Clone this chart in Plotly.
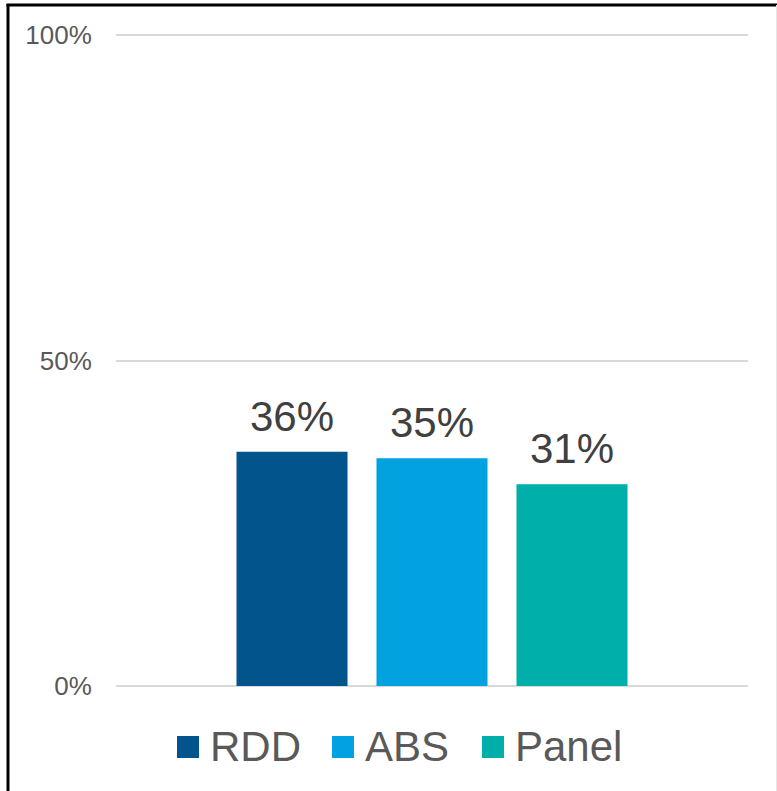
import plotly.graph_objects as go

# Survey modes and their shares
modes = ["RDD", "ABS", "Panel"]
shares = [0.36, 0.35, 0.31]
colors = ["#02548C", "#02A2E0", "#00AFAA"]

tick_vals = [0, 0.5, 1.0]
tick_text = ["0%", "50%", "100%"]

W, H = 777, 791
# plot area spans 0..1 between y=35 and y=686; pad the range slightly
# so the gridlines at 0% and 100% are drawn
PAD = 2
L, R, T, B = 116, 29, 35 - PAD, 105 - PAD
plot_w = W - L - R
plot_h = H - T - B
eps = PAD / (686 - 35)

FONT = "Arial, Liberation Sans, sans-serif"


def px_x(px):
    return (px - L) / plot_w


def px_y(py):
    return (H - B - py) / plot_h


fig = go.Figure(
    go.Bar(
        x=modes,
        y=shares,
        marker=dict(color=colors, line=dict(width=0)),
        width=0.793,
        showlegend=False,
        hoverinfo="x+y",
    )
)

# value labels above each bar
for m, v in zip(modes, shares):
    fig.add_annotation(
        x=m, y=v, xref="x", yref="y",
        text=f"{v:.0%}", showarrow=False,
        yanchor="bottom", yshift=10,
        font=dict(family=FONT, size=42, color="#404040"),
    )

# legend row drawn as swatches + labels
legend_items = [(177, 210), (332, 365), (482, 515)]
for (sx, tx), m, c in zip(legend_items, modes, colors):
    fig.add_shape(
        type="rect", xref="paper", yref="paper",
        x0=px_x(sx), x1=px_x(sx + 22), y0=px_y(758), y1=px_y(736),
        fillcolor=c, line=dict(width=0),
    )
    fig.add_annotation(
        x=px_x(tx - 2), y=px_y(746), xref="paper", yref="paper",
        text=m, showarrow=False, xanchor="left", yanchor="middle",
        font=dict(family=FONT, size=42, color="#595959"),
    )

# outer frame lines
fig.add_shape(type="line", xref="paper", yref="paper",
              x0=px_x(6.5), x1=px_x(W), y0=px_y(5), y1=px_y(5),
              line=dict(color="#000000", width=3))
fig.add_shape(type="line", xref="paper", yref="paper",
              x0=px_x(8), x1=px_x(8), y0=px_y(4), y1=px_y(H),
              line=dict(color="#000000", width=3))
fig.add_shape(type="line", xref="paper", yref="paper",
              x0=px_x(776.5), x1=px_x(776.5), y0=px_y(5), y1=px_y(H),
              line=dict(color="#e6e6e6", width=1))

fig.update_layout(
    width=W, height=H,
    margin=dict(l=L, r=R, t=T, b=B, pad=0),
    paper_bgcolor="white", plot_bgcolor="white",
    font=dict(family=FONT),
    xaxis=dict(
        range=[1 - 316 / 140, 1 + 316 / 140],
        showticklabels=False, showgrid=False, zeroline=False,
        showline=False, ticks="",
    ),
    yaxis=dict(
        range=[-eps, 1.0 + eps],
        tickvals=tick_vals, ticktext=tick_text,
        tickfont=dict(family=FONT, size=26, color="#595959"),
        showgrid=True, gridcolor="#d9d9d9", gridwidth=1.5,
        zeroline=False, showline=False,
        ticks="outside", ticklen=18, tickcolor="rgba(0,0,0,0)",
    ),
)

fig.write_html("out.html")
